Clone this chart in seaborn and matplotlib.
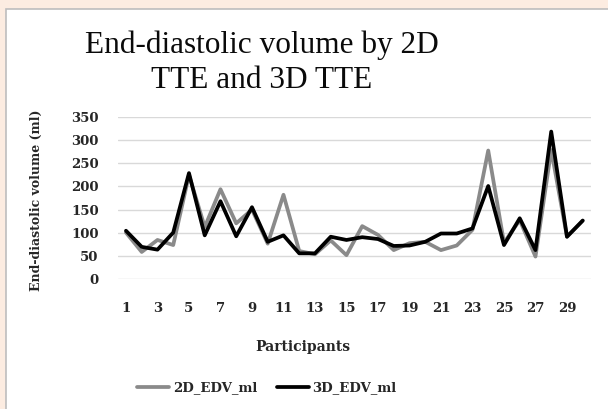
import matplotlib
matplotlib.use("Agg")
import matplotlib.pyplot as plt
import seaborn as sns
import pandas as pd
from matplotlib.patches import Rectangle

# Participant numbers and end-diastolic volumes (ml)
participants = list(range(1, 31))
edv_2d = [100, 58, 84, 73, 225, 112, 194, 120, 150, 76,
          182, 60, 53, 83, 51, 114, 95, 62, 77, 80,
          62, 72, 106, 278, 78, 127, 48, 279, 91, 126]
edv_3d = [104, 69, 63, 100, 229, 94, 168, 92, 155, 80,
          94, 55, 55, 91, 84, 90, 86, 71, 72, 80,
          98, 98, 109, 201, 73, 131, 62, 319, 91, 126]
series_names = ["2D_EDV_ml", "3D_EDV_ml"]
title_lines = ["End-diastolic volume by 2D", "TTE and 3D TTE"]
x_ticks = list(range(1, 30, 2))
y_ticks = [0, 50, 100, 150, 200, 250, 300, 350]

df = pd.DataFrame({
    "Participant": participants * 2,
    "EDV": edv_2d + edv_3d,
    "Series": [series_names[0]] * 30 + [series_names[1]] * 30,
})

sns.set_theme(style="white")
plt.rcParams["font.family"] = ["Liberation Serif", "DejaVu Serif"]
label_font = "DejaVu Serif"

W, H = 608, 409
fig = plt.figure(figsize=(W / 100, H / 100), dpi=100, facecolor="#fcece1")

# white chart panel with thin grey border
panel = Rectangle((5.5 / W, -0.01), 1.02, 1 - 9.5 / H + 0.01, transform=fig.transFigure,
                  facecolor="white", edgecolor="#bdbdbd", linewidth=1.2, zorder=-5)
fig.patches.append(panel)

left, right = 118.1 / W, 590.6 / W
bottom, top = 1 - 278.7 / H, 1 - 117.3 / H
ax = fig.add_axes([left, bottom, right - left, top - bottom], zorder=2)
ax.set_facecolor("none")

sns.lineplot(data=df, x="Participant", y="EDV", hue="Series",
             palette={series_names[0]: "#8a8a8a", series_names[1]: "#000000"},
             linewidth=2.7, ax=ax, legend=True)

ax.set_xlim(0.5, 30.5)
ax.set_ylim(0, 350)
ax.set_xticks(x_ticks)
ax.set_yticks(y_ticks)
ax.grid(axis="y", color="#d9d9d9", linewidth=1.0)
ax.set_axisbelow(True)
for s in ax.spines.values():
    s.set_visible(False)
ax.tick_params(axis="both", length=0, labelsize=9.5, pad=0)
ax.tick_params(axis="y", pad=14)
ax.tick_params(axis="x", pad=17)
for lab in ax.get_xticklabels() + ax.get_yticklabels():
    lab.set_fontweight("bold")
    lab.set_family(label_font)

ax.set_xlabel("Participants", fontsize=10, fontweight="bold", family=label_font)
ax.set_ylabel("End-diastolic volume (ml)", fontsize=9, fontweight="bold", family=label_font)
ax.xaxis.set_label_coords((303 - 118.1) / (590.6 - 118.1), -(340 - 278.7) / (278.7 - 117.3))
ax.yaxis.set_label_coords(-(118.1 - 43) / (590.6 - 118.1), (278.7 - 200) / (278.7 - 117.3))

# two-line chart title
for line, base in zip(title_lines, [53, 88]):
    fig.text(262 / W, 1 - base / H, line, ha="center", va="baseline",
             fontsize=22.5, color="#0a0a0a")

leg = ax.legend(loc="center", bbox_to_anchor=(267 / W, 1 - 388 / H),
                bbox_transform=fig.transFigure, ncol=2, frameon=False,
                handlelength=2.4, handletextpad=0.3, columnspacing=1.5,
                prop={"weight": "bold", "size": 9.5, "family": label_font})

fig.savefig("out.png", dpi=100, facecolor=fig.get_facecolor())
